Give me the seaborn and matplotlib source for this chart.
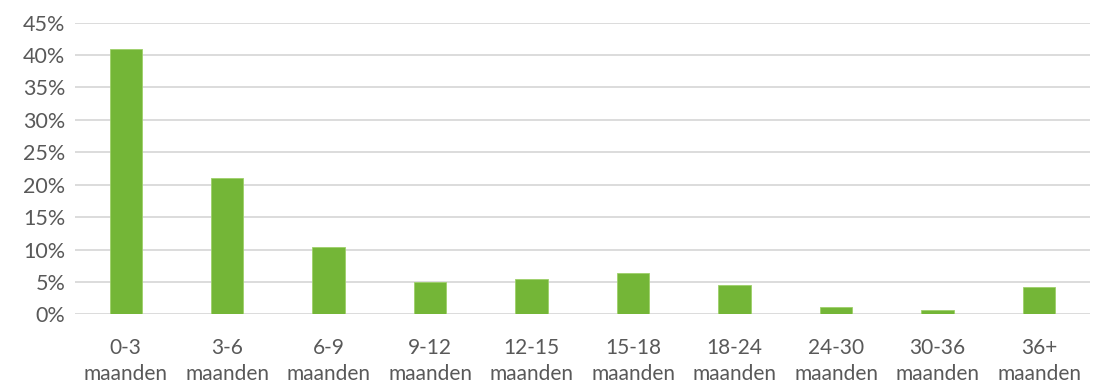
import pandas as pd
import matplotlib
matplotlib.use("Agg")
import matplotlib.pyplot as plt
import seaborn as sns
from matplotlib.ticker import PercentFormatter

# === DATA ===
categories = ["0-3\nmaanden", "3-6\nmaanden", "6-9\nmaanden", "9-12\nmaanden",
              "12-15\nmaanden", "15-18\nmaanden", "18-24\nmaanden", "24-30\nmaanden",
              "30-36\nmaanden", "36+\nmaanden"]
values = [0.41, 0.21, 0.104, 0.05, 0.055, 0.063, 0.045, 0.012, 0.007, 0.042]
y_ticks = [0, 0.05, 0.10, 0.15, 0.20, 0.25, 0.30, 0.35, 0.40, 0.45]

df = pd.DataFrame({"periode": categories, "aandeel": values})

sns.set_style("white")
plt.rcParams['font.family'] = ['Lato', 'DejaVu Sans']

fig = plt.figure(figsize=(10.97, 3.82), dpi=100)
ax = fig.add_axes([0.0684, 0.1772, 0.925, 0.7634])

sns.barplot(data=df, x="periode", y="aandeel", color="#74B637", width=0.32,
            saturation=1, edgecolor="#9ED06A", linewidth=0.6, ax=ax, zorder=3)

ax.set_ylim(0, 0.45)
ax.set_xlim(-0.5, len(categories) - 0.5)
ax.set_yticks(y_ticks)
ax.yaxis.set_major_formatter(PercentFormatter(1.0, decimals=0))
ax.grid(axis="y", color="#D9D9D9", linewidth=1.3, zorder=0)
ax.set_axisbelow(True)
for spine in ax.spines.values():
    spine.set_visible(False)
ax.tick_params(axis="y", length=0, colors="#595959", labelsize=15.5, pad=7)
ax.tick_params(axis="x", length=0, colors="#595959", labelsize=15, pad=17)
for lbl in ax.get_xticklabels():
    lbl.set_linespacing(1.4)
ax.set_xlabel("")
ax.set_ylabel("")

fig.savefig("out.png", dpi=100)
plt.close(fig)
